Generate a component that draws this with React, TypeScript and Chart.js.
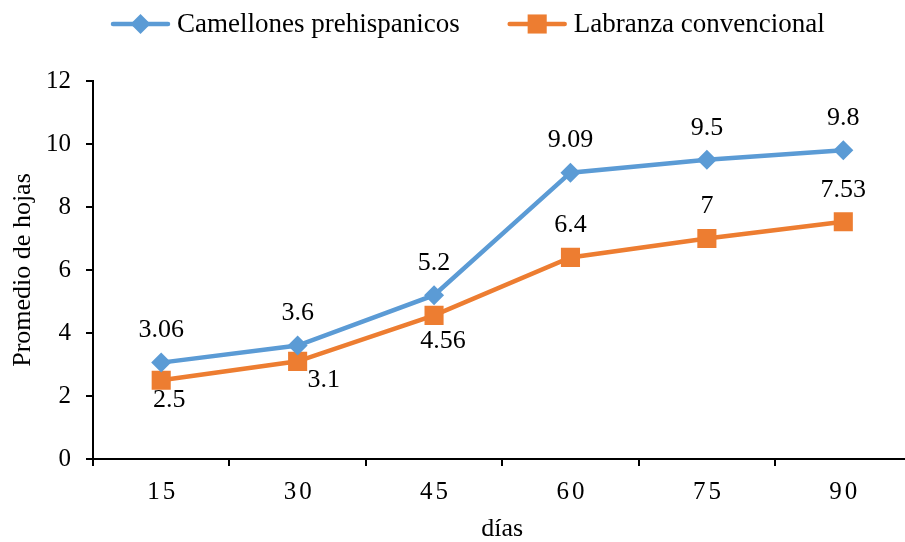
import React, { useEffect, useRef } from "react";
import { Chart, registerables } from "chart.js";

Chart.register(...registerables);

const DAYS = ["15", "30", "45", "60", "75", "90"];
const CAMELLONES = [3.06, 3.6, 5.2, 9.09, 9.5, 9.8];
const LABRANZA = [2.5, 3.1, 4.56, 6.4, 7, 7.53];
const SERIES_NAMES = ["Camellones prehispanicos", "Labranza convencional"];
const Y_MIN = 0;
const Y_MAX = 12;
const Y_STEP = 2;
const X_TITLE = "días";
const Y_TITLE = "Promedio de hojas";

const W = 925;
const H = 542;
const FONT = "'Liberation Serif', 'Times New Roman', serif";
const BLUE = "#5B9BD5";
const ORANGE = "#ED7D31";

function drawMarker(ctx: CanvasRenderingContext2D, style: string, x: number, y: number, r: number, color: string) {
  ctx.fillStyle = color;
  ctx.beginPath();
  if (style === "rectRot") {
    ctx.moveTo(x - r, y);
    ctx.lineTo(x, y - r);
    ctx.lineTo(x + r, y);
    ctx.lineTo(x, y + r);
    ctx.closePath();
  } else {
    const s = Math.SQRT1_2 * r;
    ctx.rect(x - s, y - s, 2 * s, 2 * s);
  }
  ctx.fill();
}

const legendPlugin = {
  id: "customLegend",
  afterDraw(chart: any) {
    const ctx: CanvasRenderingContext2D = chart.ctx;
    ctx.save();
    ctx.font = `27px ${FONT}`;
    const lineLen = 55;
    const gapText = 9;
    const gapItem = 50;
    let x = 113;
    const y = 24;
    for (const ds of chart.data.datasets) {
      const w = ctx.measureText(ds.label).width;
      ctx.strokeStyle = ds.borderColor;
      ctx.lineWidth = 4.5;
      ctx.lineCap = "round";
      ctx.beginPath();
      ctx.moveTo(x, y);
      ctx.lineTo(x + lineLen, y);
      ctx.stroke();
      drawMarker(ctx, ds.pointStyle, x + lineLen / 2, y, ds.pointRadius, ds.borderColor);
      ctx.fillStyle = "#000";
      ctx.textAlign = "left";
      ctx.textBaseline = "middle";
      ctx.fillText(ds.label, x + lineLen + gapText, y + 1);
      x += lineLen + gapText + w + gapItem;
    }
    ctx.restore();
  },
};

const dataLabelPlugin = {
  id: "dataLabels",
  afterDatasetsDraw(chart: any) {
    const ctx: CanvasRenderingContext2D = chart.ctx;
    ctx.save();
    ctx.font = `26px ${FONT}`;
    ctx.fillStyle = "#000";
    ctx.textAlign = "center";
    ctx.textBaseline = "middle";
    const belowOffsets: Record<number, [number, number]> = { 0: [8, 20], 1: [26, 19], 2: [9, 26] };
    chart.data.datasets.forEach((ds: any, di: number) => {
      const meta = chart.getDatasetMeta(di);
      meta.data.forEach((pt: any, i: number) => {
        let dx = 0;
        let dy = -32;
        if (di === 1 && belowOffsets[i]) {
          [dx, dy] = belowOffsets[i];
        }
        ctx.fillText(String(ds.data[i]), pt.x + dx, pt.y + dy);
      });
    });
    ctx.restore();
  },
};

const xLabelPlugin = {
  id: "xLabels",
  afterDraw(chart: any) {
    const ctx: any = chart.ctx;
    const xs = chart.scales.x;
    ctx.save();
    ctx.font = `25px ${FONT}`;
    ctx.fillStyle = "#000";
    ctx.textBaseline = "middle";
    ctx.textAlign = "left";
    const sp = 3;
    ctx.letterSpacing = `${sp}px`;
    const labels: string[] = chart.data.labels;
    labels.forEach((lab, i) => {
      const px = xs.getPixelForValue(i);
      const w = ctx.measureText(lab).width - sp;
      ctx.fillText(lab, px - w / 2, xs.top + 33);
    });
    ctx.restore();
  },
};

export default function App() {
  const ref = useRef<HTMLCanvasElement | null>(null);

  useEffect(() => {
    if (!ref.current) return;
    const chart = new Chart(ref.current, {
      type: "line",
      data: {
        labels: DAYS,
        datasets: [
          {
            label: SERIES_NAMES[0],
            data: CAMELLONES,
            borderColor: BLUE,
            backgroundColor: BLUE,
            borderWidth: 4.5,
            pointStyle: "rectRot",
            pointRadius: 10,
            pointBackgroundColor: BLUE,
            pointBorderWidth: 0,
            tension: 0,
          },
          {
            label: SERIES_NAMES[1],
            data: LABRANZA,
            borderColor: ORANGE,
            backgroundColor: ORANGE,
            borderWidth: 4.5,
            pointStyle: "rect",
            pointRadius: 13.5,
            pointBackgroundColor: ORANGE,
            pointBorderWidth: 0,
            tension: 0,
          },
        ],
      },
      options: {
        responsive: false,
        animation: false,
        devicePixelRatio: 1,
        layout: { padding: { top: 81, left: 0, right: 0, bottom: 0 } },
        plugins: {
          legend: { display: false },
          tooltip: { enabled: false },
        },
        scales: {
          x: {
            type: "category",
            offset: true,
            grid: {
              offset: true,
              drawOnChartArea: false,
              drawTicks: true,
              tickLength: 7,
              color: "#000",
              lineWidth: 2,
            },
            border: { color: "#000", width: 2 },
            ticks: { display: false },
            title: {
              display: true,
              text: X_TITLE,
              color: "#000",
              font: { family: FONT, size: 26 },
              padding: { top: 0, bottom: -3 },
            },
            afterFit: (s: any) => {
              s.height = 83;
            },
          },
          y: {
            min: Y_MIN,
            max: Y_MAX,
            ticks: {
              stepSize: Y_STEP,
              color: "#000",
              font: { family: FONT, size: 25 },
              padding: 15,
            },
            grid: {
              drawOnChartArea: false,
              drawTicks: true,
              tickLength: 7,
              color: "#000",
              lineWidth: 2,
            },
            border: { color: "#000", width: 2 },
            title: {
              display: true,
              text: Y_TITLE,
              color: "#000",
              font: { family: FONT, size: 26 },
              padding: { top: 8, bottom: 0 },
            },
            afterFit: (s: any) => {
              s.width = 93;
            },
          },
        },
      },
      plugins: [dataLabelPlugin, xLabelPlugin, legendPlugin],
    } as any);
    return () => chart.destroy();
  }, []);

  return (
    <div style={{ position: "fixed", left: 0, top: 0, width: W, height: H, background: "#fff" }}>
      <canvas ref={ref} width={W} height={H} style={{ display: "block", width: W, height: H }} />
    </div>
  );
}
